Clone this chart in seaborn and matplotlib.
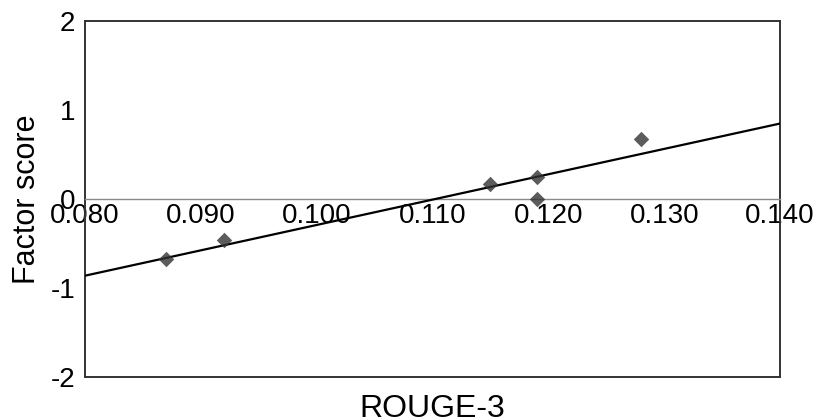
import matplotlib
matplotlib.use("Agg")
import matplotlib.pyplot as plt
import seaborn as sns
import numpy as np
import pandas as pd
from matplotlib.ticker import FormatStrFormatter

# ROUGE-3 scores and the matching factor scores
rouge3 = [0.087, 0.092, 0.115, 0.119, 0.119, 0.128]
factor_score = [-0.67, -0.46, 0.17, 0.25, 0.0, 0.67]

x_ticks = [0.080, 0.090, 0.100, 0.110, 0.120, 0.130, 0.140]
y_ticks = [-2, -1, 0, 1, 2]

df = pd.DataFrame({"ROUGE-3": rouge3, "Factor score": factor_score})

sns.set_style("white")
plt.rcParams["font.family"] = ["Liberation Sans", "DejaVu Sans"]
plt.rcParams["axes.unicode_minus"] = False
plt.rcParams["text.color"] = "black"
plt.rcParams["axes.labelcolor"] = "black"
plt.rcParams["xtick.labelcolor"] = "black"
plt.rcParams["ytick.labelcolor"] = "black"

fig = plt.figure(figsize=(8.25, 4.19), dpi=100)
ax = fig.add_axes([0.103, 0.100, 0.8425, 0.850])
ax.set_xlim(x_ticks[0], x_ticks[-1])
ax.set_ylim(y_ticks[0], y_ticks[-1])

sns.regplot(data=df, x="ROUGE-3", y="Factor score", ax=ax, ci=None,
            truncate=False, marker="D",
            scatter_kws=dict(s=62, color="#333333", linewidths=0, zorder=4),
            line_kws=dict(color="black", lw=1.6, zorder=3))

ax.set_xlim(x_ticks[0], x_ticks[-1])
ax.set_ylim(y_ticks[0], y_ticks[-1])
ax.set_xticks(x_ticks)
ax.set_yticks(y_ticks)
ax.xaxis.set_major_formatter(FormatStrFormatter("%.3f"))

# x axis crosses at zero; the frame keeps a closed box
ax.spines["bottom"].set_position(("data", 0))
ax.spines["bottom"].set_color("#8a8a8a")
ax.spines["bottom"].set_linewidth(1.0)
for side in ("left", "top", "right"):
    ax.spines[side].set_color("#333333")
    ax.spines[side].set_linewidth(1.4)
ax.plot([0, 1], [0, 0], transform=ax.transAxes, color="#333333",
        lw=1.4, clip_on=False, zorder=5)

ax.tick_params(axis="x", direction="in", length=5, width=0.8,
               color="#8a8a8a", labelsize=20, pad=3)
ax.tick_params(axis="y", direction="in", length=5, width=0.8,
               color="#555555", labelsize=20, pad=7)

ax.set_xlabel("ROUGE-3", fontsize=23)
ax.set_ylabel("Factor score", fontsize=22)
ax.xaxis.set_label_coords(0.5, -0.048)
ax.yaxis.set_label_coords(-0.062, 0.5)

fig.savefig("out.png", dpi=100, facecolor="white")
